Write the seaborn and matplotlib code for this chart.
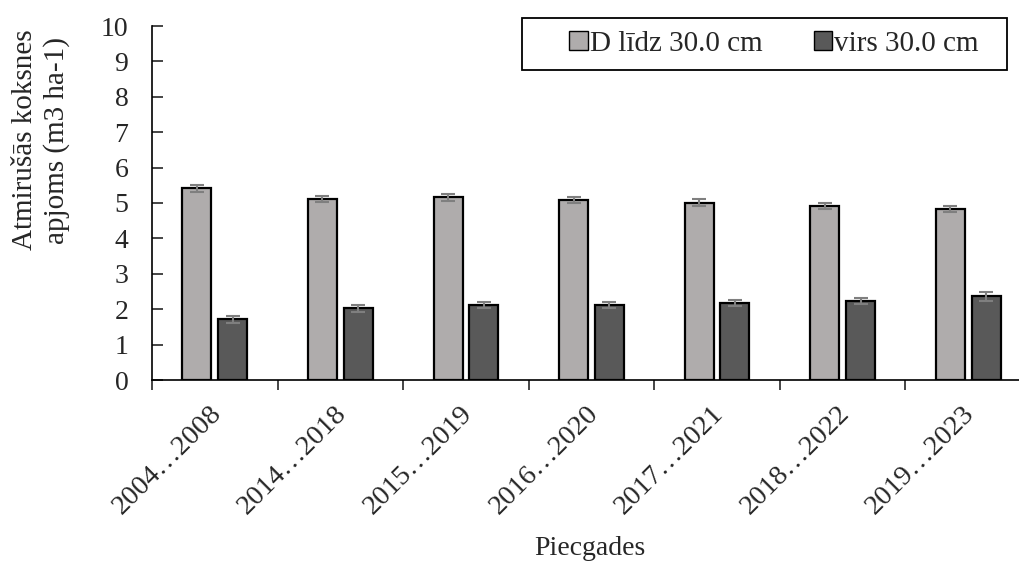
import numpy as np
import pandas as pd
import matplotlib
matplotlib.use("Agg")
import matplotlib.pyplot as plt
import matplotlib.transforms as mtransforms
from matplotlib.patches import Rectangle
import seaborn as sns

categories = ["2004…2008", "2014…2018", "2015…2019", "2016…2020", "2017…2021", "2018…2022", "2019…2023"]
series_names = ["D līdz 30.0 cm", "virs 30.0 cm"]
small_vals = [5.41, 5.11, 5.16, 5.08, 5.01, 4.92, 4.83]
large_vals = [1.71, 2.02, 2.12, 2.11, 2.17, 2.24, 2.36]
small_err = [0.10, 0.09, 0.09, 0.09, 0.09, 0.09, 0.09]
large_err = [0.09, 0.09, 0.09, 0.09, 0.09, 0.09, 0.12]
colors = ["#AFABAB", "#595959"]

df = pd.DataFrame({
    "cat": categories * 2,
    "series": [series_names[0]] * len(categories) + [series_names[1]] * len(categories),
    "val": small_vals + large_vals,
})
errs = {series_names[0]: small_err, series_names[1]: large_err}

sns.set_style("white")
plt.rcParams["font.family"] = ["Liberation Serif", "DejaVu Serif"]
FS = 20

fig = plt.figure(figsize=(10.2, 5.65), dpi=100)
W, H = 1020, 565
left, right, top, bottom = 152, 1031, 26, 380
ax = fig.add_axes([left / W, 1 - bottom / H, (right - left) / W, (bottom - top) / H])

sns.barplot(data=df, x="cat", y="val", hue="series", order=categories,
            hue_order=series_names, palette=colors, width=0.57, gap=0.19,
            edgecolor="black", linewidth=1.6, errorbar=None, ax=ax, legend=True)

# error bars at bar centers
for container, name in zip(ax.containers, series_names):
    xs = [p.get_x() + p.get_width() / 2 for p in container.patches]
    hs = [p.get_height() for p in container.patches]
    ax.errorbar(xs, hs, yerr=errs[name], fmt="none", ecolor="#7F7F7F",
                elinewidth=1.5, capsize=5, capthick=1.5, zorder=5)

ax.set_xlim(-0.5, len(categories) - 0.5)
ax.set_ylim(0, 10)
ax.set_yticks(range(0, 11))
ax.set_xticks(np.arange(-0.5, len(categories) - 0.5, 1.0), minor=False)
ax.set_xticklabels([])
ax.set_xticks(np.arange(len(categories)), minor=True)
ax.set_xticklabels(categories, minor=True, rotation=45, ha="right",
                   rotation_mode="anchor", fontsize=20.5)
ax.tick_params(axis="x", which="major", direction="out", length=7, width=1.2, bottom=True)
ax.tick_params(axis="x", which="minor", length=0, pad=15)
ax.tick_params(axis="y", direction="in", length=8, width=1.2, left=True, labelsize=FS, pad=17)
shift = mtransforms.ScaledTranslation(-6 / 100, 0, fig.dpi_scale_trans)
for t in ax.xaxis.get_minor_ticks():
    t.label1.set_transform(t.label1.get_transform() + shift)

for s in ["top", "right"]:
    ax.spines[s].set_visible(False)
for s in ["left", "bottom"]:
    ax.spines[s].set_color("black")
    ax.spines[s].set_linewidth(1.2)

ax.set_xlabel("Piecgades", fontsize=FS)
ax.xaxis.set_label_coords((590 - left) / (right - left), -(536 - bottom) / (bottom - top))
ax.set_ylabel("Atmirušās koksnes\napjoms (m3 ha-1)", fontsize=21, linespacing=1.25)
ax.yaxis.set_label_coords(-(152 - 70) / (right - left), (bottom - 140) / (bottom - top))

# legend (frameless, centred) plus a separate box as in the reference
leg = ax.legend(loc="center", bbox_to_anchor=(774 / W, 1 - 44 / H), bbox_transform=fig.transFigure,
                ncol=2, frameon=False, fontsize=21,
                handlelength=0.62, handleheight=0.62, handletextpad=0.08, columnspacing=1.75,
                borderpad=0.0, borderaxespad=0)
for h in leg.legend_handles:
    h.set_edgecolor("black")
    h.set_linewidth(1.0)
fig.patches.append(Rectangle((522 / W, 1 - 70 / H), (1007 - 522) / W, (70 - 18) / H,
                             transform=fig.transFigure, fill=False, edgecolor="black",
                             linewidth=1.3, zorder=10))

fig.savefig("out.png", dpi=100)
